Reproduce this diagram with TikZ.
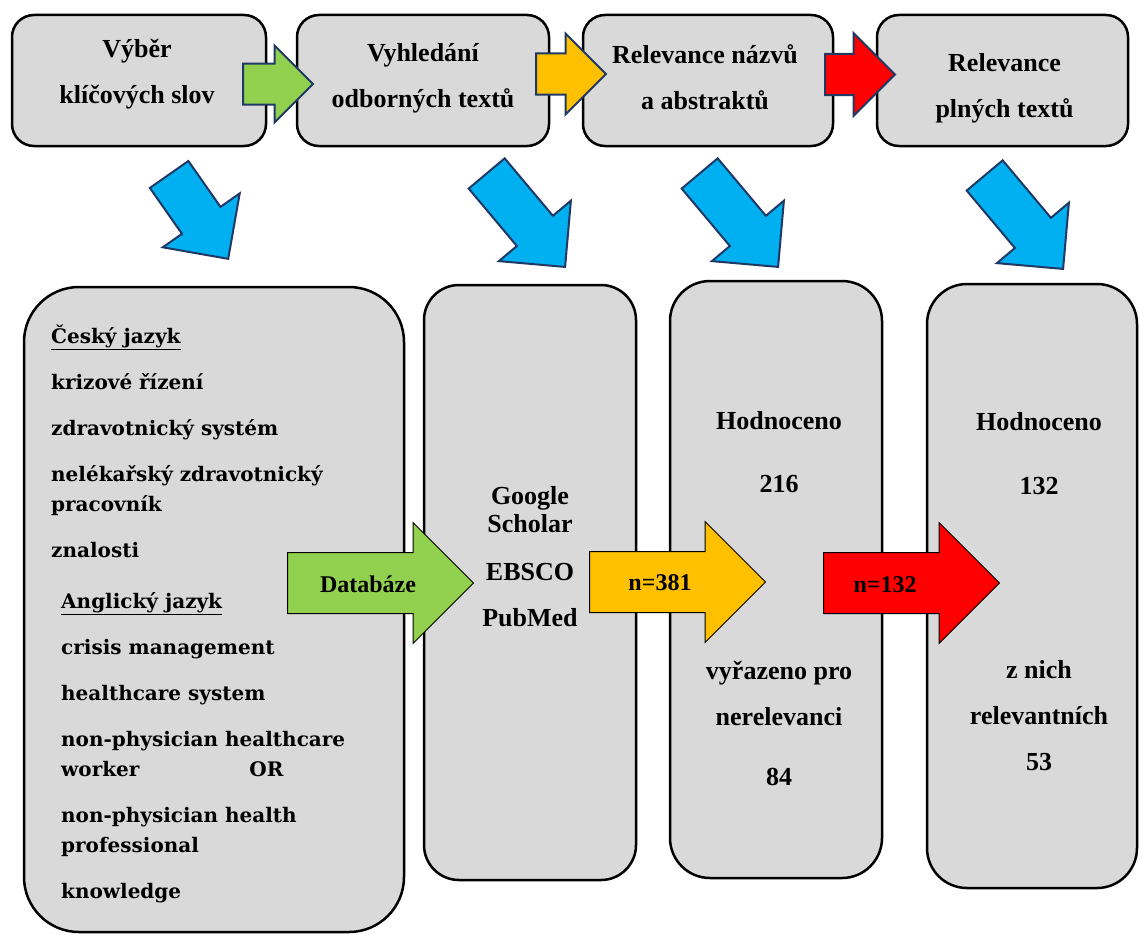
\documentclass[tikz,border=0pt]{standalone}
\usepackage{fontspec}
\setmainfont{Liberation Serif}
\newfontfamily\kwfont{DejaVu Serif}
\usetikzlibrary{shapes.arrows, positioning, calc}
\definecolor{boxgray}{RGB}{217, 217, 217}
\definecolor{arrowgreen}{RGB}{146, 208, 80}
\definecolor{arrowyellow}{RGB}{255, 192, 0}
\definecolor{arrowred}{RGB}{255, 0, 0}
\definecolor{arrowblue}{RGB}{0, 176, 240}
\definecolor{arrownavy}{RGB}{31, 56, 100}
\tikzset{
  % Top row: the four steps of the search.
  stepcard/.style={
    rectangle, rounded corners=22pt,
    draw=black, line width=2.5pt,
    fill=boxgray,
    minimum height=131pt,
  },
  steptext/.style={
    inner sep=0pt, align=center,
    font=\fontsize{26}{46}\selectfont\bfseries,
  },
  % Bottom row: tall result panels (#1 = corner radius).
  panel/.style={
    rectangle, rounded corners=#1,
    draw=black, line width=2.5pt,
    fill=boxgray,
  },
  % Texts inside the panels.
  paneltext/.style={
    inner sep=0pt, align=center,
    font=\fontsize{26}{46}\selectfont\bfseries,
  },
  kwtext/.style={
    inner sep=0pt, align=left, anchor=north west,
    font=\kwfont\fontsize{20}{30}\selectfont\bfseries,
  },
  % Block arrows (shaft width = 2 x inner ysep).
  smallarrow/.style={
    single arrow, draw=arrownavy, line width=2pt,
    fill=#1, inner xsep=0pt, inner ysep=19.5pt,
    minimum height=70pt,
    anchor=tail,
  },
  bigarrow/.style={
    single arrow, draw=black, line width=1pt,
    fill=#1, inner xsep=0pt, inner ysep=30pt,
    single arrow head extend=30pt,
    anchor=tail,
  },
  downarrow/.style={
    single arrow, draw=arrownavy, line width=2pt,
    fill=arrowblue, inner xsep=0pt, inner ysep=22.5pt,
    single arrow head extend=23.5pt,
    anchor=tip,
  },
  arrowlabel/.style={font=\fontsize{24}{28}\selectfont\bfseries, inner sep=0pt},
}

\begin{document}
\begin{tikzpicture}[x=1pt, y=-1pt]
  \useasboundingbox (0,0) rectangle (1139,934);

  % Bottom row panels.
  \node[panel=55pt, minimum width=380pt, minimum height=645pt] (kwbox) at (214,609.5) {};
  \node[panel=35pt, minimum width=212pt, minimum height=595pt] (srcbox) at (530,582.5) {};
  \node[panel=40pt, minimum width=212pt, minimum height=597pt] (absbox) at (776,579.5) {};
  \node[panel=40pt, minimum width=210pt, minimum height=604pt] (fullbox) at (1032,586) {};

  % Keywords.
  \node[kwtext] (czech) at (51,325) {%
    \underline{Český jazyk}\\[16pt]
    krizové řízení\\[16pt]
    zdravotnický systém\\[16pt]
    nelékařský zdravotnický\\
    pracovník\\[16pt]
    znalosti%
  };
  \node[kwtext] (english) at (61,592) {%
    \underline{Anglický jazyk}\\[16pt]
    crisis management\\[16pt]
    healthcare system\\[16pt]
    non-physician healthcare\\
    worker\hspace{110pt}OR\\[16pt]
    non-physician health\\
    professional\\[16pt]
    knowledge%
  };

  % Databases.
  \node[paneltext, font=\fontsize{26}{28}\selectfont\bfseries] (databases) at (530,557) {%
    Google\\
    Scholar\\[20pt]
    EBSCO\\[18pt]
    PubMed%
  };

  % Screening counts.
  \node[paneltext] (abstop) at (779,452) {Hodnoceno\\[17pt]216};
  \node[paneltext] (absbot) at (779,723) {vyřazeno pro\\nerelevanci\\[14pt]84};
  \node[paneltext] (fulltop) at (1039,454) {Hodnoceno\\[18pt]132};
  \node[paneltext] (fullbot) at (1039,716) {z nich\\relevantních\\53};

  % Top row steps.
  \node[stepcard, minimum width=254pt] (kw) at (139,80.5) {};
  \node[stepcard, minimum width=252pt] (search) at (423,80.5) {};
  \node[stepcard, minimum width=250pt] (relabs) at (708,80.5) {};
  \node[stepcard, minimum width=251pt] (relfull) at (1002.5,80.5) {};
  \node[steptext] (kwlabel) at ($(kw.center)+(-2,-6)$) {Výběr\\klíčových slov};
  \node[steptext] (searchlabel) at ($(search.center)+(0,-2)$) {Vyhledání\\odborných textů};
  \node[steptext] (relabslabel) at ($(relabs.center)+(-3,-3)$) {Relevance názvů\\a abstraktů};
  \node[steptext] (relfulllabel) at ($(relfull.center)+(2,8)$) {Relevance\\plných textů};

  % Arrows between the steps.
  \node[smallarrow=arrowgreen, single arrow head extend=18pt] (kw-search) at (242,84) {};
  \node[smallarrow=arrowyellow, single arrow head extend=20pt] (search-relabs) at (535,74) {};
  \node[smallarrow=arrowred, single arrow head extend=21pt] (relabs-relfull) at (824,74.5) {};

  % Arrows from the steps down to the panels.
  \node[downarrow, minimum height=103pt, rotate=-55] (kw-down) at (229,260) {};
  \node[downarrow, minimum height=122pt, rotate=-50] (search-down) at (566,268) {};
  \node[downarrow, minimum height=122pt, rotate=-50] (relabs-down) at (779,268) {};
  \node[downarrow, minimum height=122pt, rotate=-50] (relfull-down) at (1064,270) {};

  % Arrows between the panels.
  \node[bigarrow=arrowgreen, minimum height=186pt] (kw-src) at (287,583) {};
  \node[bigarrow=arrowyellow, minimum height=176pt] (src-abs) at (589,582) {};
  \node[bigarrow=arrowred, minimum height=176pt] (abs-full) at (823,583) {};
  \node[arrowlabel] (dblabel) at (368,584) {Databáze};
  \node[arrowlabel] (abslabel) at (660,583) {n=381};
  \node[arrowlabel] (fulllabel) at (885,585) {n=132};

\end{tikzpicture}
\end{document}
